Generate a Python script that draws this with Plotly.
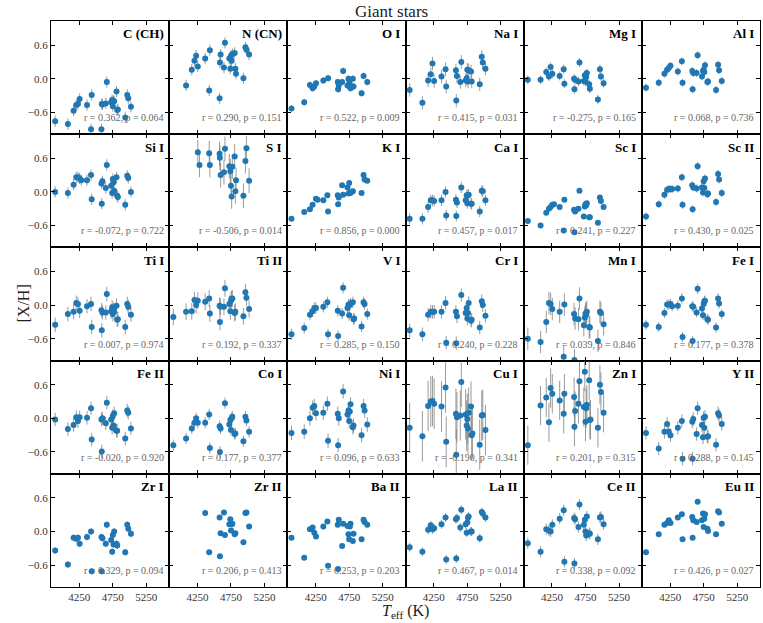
import plotly.graph_objects as go
from plotly.subplots import make_subplots

# effective temperature of the giant stars (shared by every panel)
teff = [3890, 4080, 4165, 4205, 4230, 4255, 4280, 4365, 4425, 4435,
        4580, 4585, 4595, 4645, 4660, 4725, 4740, 4750, 4760, 4770,
        4805, 4815, 4825, 4935, 4965, 4980, 5020]

N = None
c_ch = [-0.76, -0.81, -0.57, -0.47, -0.45, -0.36, N, -0.47, -0.90, -0.29, -0.90, -0.45, -0.46, -0.44, -0.06, -0.42, -0.38, -0.49, -0.40, -0.40, -0.23, -0.56, -0.55, -0.69, -0.29, -0.35, -0.50]
n_cn = [N, -0.12, 0.16, 0.32, 0.41, 0.22, N, 0.36, -0.21, 0.51, -0.35, 0.29, 0.43, 0.20, 0.64, 0.36, 0.18, 0.41, 0.32, 0.44, 0.46, 0.18, 0.09, 0.01, 0.56, 0.52, 0.43]
o_1 = [-0.53, -0.42, -0.11, -0.17, -0.14, -0.08, N, -0.03, N, 0.01, -0.06, -0.19, -0.12, -0.06, 0.14, -0.12, 0.00, -0.03, -0.10, -0.17, 0.00, -0.14, N, -0.26, 0.05, N, -0.06]
na_1 = [-0.20, -0.43, -0.03, 0.08, 0.27, -0.04, N, 0.04, 0.17, -0.14, 0.15, -0.39, 0.05, -0.06, 0.30, -0.03, 0.01, 0.16, -0.05, 0.15, 0.13, -0.05, N, -0.10, 0.39, 0.29, 0.18]
mg_1 = [-0.02, -0.02, 0.12, 0.04, 0.21, 0.09, N, 0.05, 0.17, -0.09, 0.00, -0.19, -0.02, -0.05, 0.29, -0.04, 0.06, -0.05, 0.03, 0.10, -0.10, -0.18, N, -0.37, 0.17, 0.04, -0.08]
al_1 = [-0.16, -0.07, 0.09, 0.16, 0.19, 0.23, N, 0.13, 0.31, -0.07, 0.14, -0.19, 0.10, 0.10, 0.42, 0.04, 0.14, 0.16, 0.12, 0.24, -0.06, -0.05, N, -0.20, 0.25, 0.15, -0.04]
si_1 = [0.00, -0.02, 0.13, 0.26, 0.26, 0.24, 0.21, 0.21, 0.30, -0.13, 0.15, -0.21, 0.19, 0.07, 0.48, 0.11, -0.02, 0.23, 0.17, 0.02, 0.26, -0.07, -0.09, -0.23, 0.29, 0.25, 0.00]
s_1 = [N, N, N, N, N, 0.71, 0.48, N, 0.69, 0.48, 0.68, 0.61, 0.30, 0.35, 0.77, 0.46, 0.37, 0.11, -0.08, 0.45, 0.63, 0.01, 0.21, -0.07, 0.55, 0.78, 0.20]
k_1 = [-0.48, -0.36, -0.31, -0.23, N, -0.12, -0.14, -0.15, -0.06, -0.35, -0.06, -0.22, -0.10, 0.12, -0.05, 0.08, -0.03, 0.16, -0.01, -0.02, 0.01, N, N, -0.02, 0.30, 0.22, 0.20]
ca_1 = [-0.48, -0.48, -0.27, -0.15, -0.15, -0.16, N, -0.15, 0.00, -0.42, -0.14, -0.43, -0.19, N, 0.08, -0.15, -0.06, -0.20, -0.06, -0.05, -0.21, -0.21, N, -0.35, 0.02, 0.01, -0.15]
sc_1 = [-0.52, -0.60, -0.37, -0.30, -0.27, -0.23, -0.22, -0.27, -0.69, -0.14, -0.32, -0.72, -0.35, -0.30, 0.02, -0.44, -0.26, -0.22, -0.24, -0.20, -0.45, -0.45, N, -0.55, -0.10, -0.16, -0.27]
sc_2 = [-0.44, -0.22, -0.05, 0.04, 0.05, 0.05, 0.05, 0.06, 0.26, -0.23, 0.12, -0.31, 0.08, 0.06, 0.46, 0.08, -0.01, 0.19, 0.07, 0.24, -0.04, -0.03, N, -0.18, 0.32, 0.22, -0.02]
ti_1 = [-0.35, -0.16, -0.12, 0.04, 0.02, -0.10, N, -0.02, 0.02, -0.39, -0.09, -0.45, -0.13, -0.13, 0.20, -0.11, -0.04, -0.16, -0.08, -0.12, -0.01, -0.26, -0.25, -0.39, 0.02, -0.03, -0.17]
ti_2 = [-0.21, -0.12, -0.11, 0.09, 0.00, 0.08, N, 0.06, 0.12, -0.15, -0.01, -0.30, -0.03, -0.03, 0.30, 0.02, -0.11, 0.08, 0.11, 0.12, -0.14, -0.12, N, -0.20, 0.23, 0.13, -0.07]
v_1 = [-0.52, -0.41, -0.17, -0.11, -0.05, -0.05, N, -0.03, 0.05, -0.52, -0.10, -0.55, N, -0.15, 0.31, -0.05, 0.01, -0.18, 0.00, 0.03, 0.05, -0.25, -0.24, -0.38, 0.05, 0.02, -0.16]
cr_1 = [-0.45, -0.52, -0.17, -0.12, -0.12, -0.12, N, -0.12, 0.04, -0.67, -0.12, -0.68, -0.20, N, 0.18, -0.14, -0.05, -0.24, -0.14, 0.04, -0.28, -0.26, N, -0.40, 0.07, 0.00, -0.19]
mn_1 = [-0.60, -0.66, -0.30, 0.04, 0.02, -0.07, N, -0.12, -0.92, 0.01, -0.16, -0.98, -0.24, -0.25, 0.12, -0.36, -0.22, -0.15, -0.17, -0.12, -0.39, -0.40, N, -0.64, -0.12, -0.14, -0.34]
fe_1 = [-0.35, -0.39, -0.14, 0.01, 0.01, 0.02, -0.02, -0.01, 0.12, -0.57, -0.02, -0.64, -0.03, -0.13, 0.29, -0.06, -0.18, 0.02, 0.07, 0.08, -0.25, -0.26, N, -0.40, 0.12, 0.03, -0.16]
fe_2 = [-0.02, -0.19, -0.12, 0.02, -0.05, 0.02, N, 0.01, 0.18, -0.38, -0.02, -0.59, 0.00, -0.09, 0.28, -0.02, -0.17, 0.04, -0.13, 0.09, -0.22, -0.22, N, -0.36, 0.14, 0.10, -0.18]
co_1 = [-0.48, -0.36, -0.18, -0.08, 0.00, -0.08, N, -0.08, 0.07, -0.53, -0.14, -0.60, -0.18, N, 0.27, -0.11, -0.03, -0.21, 0.00, 0.03, -0.28, -0.27, N, -0.41, 0.03, -0.04, -0.24]
ni_1 = [-0.26, -0.24, 0.00, 0.19, 0.22, 0.09, N, 0.10, 0.26, -0.40, 0.08, -0.48, 0.00, N, 0.48, 0.07, 0.14, -0.05, 0.12, 0.25, -0.16, -0.13, N, -0.30, 0.22, 0.14, -0.11]
cu_1 = [-0.17, -0.32, 0.22, 0.30, 0.31, 0.26, N, 0.21, 0.55, -0.42, 0.08, -0.65, 0.02, 0.05, 0.65, 0.07, -0.13, -0.01, -0.18, 0.10, 0.21, -0.30, -0.27, -0.47, 0.05, 0.06, -0.21]
zn_1 = [-0.48, 0.23, 0.37, -0.07, 0.54, 0.44, N, 0.32, 0.08, 0.44, 0.38, -0.15, 0.13, 0.26, 0.66, 0.20, 0.83, -0.06, 0.18, 0.24, 0.68, -0.03, -0.02, -0.17, 0.60, 0.47, 0.10]
y_2 = [-0.26, -0.54, -0.24, -0.10, -0.24, -0.30, N, -0.17, -0.05, -0.72, -0.06, -0.72, -0.01, -0.28, 0.18, -0.12, -0.34, 0.01, -0.17, 0.03, -0.33, -0.32, N, -0.47, 0.09, 0.05, -0.10]
zr_1 = [-0.34, -0.59, -0.11, -0.13, -0.11, -0.22, N, -0.10, 0.00, -0.71, -0.10, -0.71, -0.12, -0.22, 0.12, -0.15, -0.36, -0.06, -0.23, 0.00, -0.22, -0.25, N, -0.37, 0.12, 0.05, -0.04]
zr_2 = [N, N, N, N, N, N, N, 0.33, -0.37, N, 0.25, -0.44, -0.03, 0.34, -0.06, 0.13, 0.22, 0.02, 0.13, 0.14, -0.05, -0.03, N, -0.19, 0.33, 0.34, 0.09]
ba_2 = [-0.11, -0.47, 0.04, 0.07, -0.02, -0.09, N, 0.09, 0.18, -0.61, 0.12, -0.67, 0.21, -0.26, 0.14, 0.10, -0.05, -0.14, 0.09, 0.14, -0.17, -0.04, N, -0.14, 0.21, 0.17, 0.12]
la_2 = [-0.28, -0.36, 0.03, 0.11, 0.04, 0.06, N, 0.13, 0.25, -0.50, 0.22, -0.48, 0.24, 0.07, 0.39, 0.13, -0.02, 0.16, 0.25, 0.27, 0.00, 0.00, N, -0.12, 0.35, 0.32, 0.25]
ce_2 = [-0.21, -0.36, 0.04, 0.02, 0.00, 0.12, N, 0.23, 0.38, -0.54, 0.24, -0.57, 0.22, 0.08, 0.48, 0.12, 0.21, 0.00, -0.07, 0.27, -0.03, -0.04, N, -0.14, 0.25, 0.26, 0.13]
eu_2 = [-0.37, -0.05, 0.12, 0.15, 0.20, 0.15, N, 0.25, 0.31, -0.14, 0.26, -0.11, 0.20, 0.17, 0.53, 0.20, 0.32, 0.08, 0.23, 0.31, 0.05, 0.01, N, -0.05, 0.36, 0.34, 0.14]

labels = ["C (CH)", "N (CN)", "O I", "Na I", "Mg I", "Al I",
          "Si I", "S I", "K I", "Ca I", "Sc I", "Sc II",
          "Ti I", "Ti II", "V I", "Cr I", "Mn I", "Fe I",
          "Fe II", "Co I", "Ni I", "Cu I", "Zn I", "Y II",
          "Zr I", "Zr II", "Ba II", "La II", "Ce II", "Eu II"]
abund = [c_ch, n_cn, o_1, na_1, mg_1, al_1,
         si_1, s_1, k_1, ca_1, sc_1, sc_2,
         ti_1, ti_2, v_1, cr_1, mn_1, fe_1,
         fe_2, co_1, ni_1, cu_1, zn_1, y_2,
         zr_1, zr_2, ba_2, la_2, ce_2, eu_2]
# typical error per element
errs = [0.10, 0.10, 0.06, 0.12, 0.08, 0.07,
        0.10, 0.22, 0.04, 0.10, 0.04, 0.07,
        0.13, 0.15, 0.10, 0.12, 0.20, 0.09,
        0.12, 0.10, 0.13, 0.45, 0.35, 0.12,
        0.06, 0.02, 0.02, 0.08, 0.10, 0.03]
r_vals = [0.362, 0.290, 0.522, 0.415, -0.275, 0.068,
          -0.072, -0.506, 0.856, 0.457, 0.241, 0.430,
          0.007, 0.192, 0.285, 0.240, 0.039, 0.177,
          -0.020, 0.177, 0.096, -0.190, 0.201, 0.288,
          0.329, 0.206, 0.253, 0.467, 0.338, 0.426]
p_vals = [0.064, 0.151, 0.009, 0.031, 0.165, 0.736,
          0.722, 0.014, 0.000, 0.017, 0.227, 0.025,
          0.974, 0.337, 0.150, 0.228, 0.846, 0.378,
          0.920, 0.377, 0.633, 0.341, 0.315, 0.145,
          0.094, 0.413, 0.203, 0.014, 0.092, 0.027]

FONT = "Liberation Serif"
fig = make_subplots(rows=5, cols=6, shared_xaxes=True, shared_yaxes=True,
                    horizontal_spacing=0, vertical_spacing=0)

for i, lab in enumerate(labels):
    row, col = i // 6 + 1, i % 6 + 1
    fig.add_trace(go.Scatter(
        x=teff, y=abund[i], mode="markers",
        marker=dict(color="#1f77b4", size=6),
        error_y=dict(type="data", array=[errs[i]] * len(teff),
                     color="rgba(120,120,120,0.75)", thickness=1, width=0),
        showlegend=False), row=row, col=col)
    ax = "" if i == 0 else str(i + 1)
    fig.add_annotation(xref=f"x{ax} domain", yref=f"y{ax} domain",
                       x=0.97, y=0.97, xanchor="right", yanchor="top",
                       text="<b>" + lab + "</b>", showarrow=False,
                       font=dict(family=FONT, size=13, color="black"))
    fig.add_annotation(xref=f"x{ax} domain", yref=f"y{ax} domain",
                       x=0.97, y=0.145, xanchor="right", yanchor="middle",
                       text=f"r = {r_vals[i]:.3f}, p = {p_vals[i]:.3f}",
                       showarrow=False,
                       font=dict(family=FONT, size=10, color="#666666"))

fig.update_xaxes(range=[3828, 5590], tickvals=[4250, 4750, 5250],
                 ticks="inside", ticklen=4, tickcolor="black",
                 showline=True, linecolor="black", linewidth=1, mirror="ticks",
                 showgrid=False, zeroline=False,
                 tickfont=dict(family=FONT, size=11, color="#333333"))
fig.update_yaxes(range=[-0.99, 1.03], tickvals=[-0.6, 0.0, 0.6],
                 ticktext=["\u22120.6", "0.0", "0.6"],
                 ticks="inside", ticklen=4, tickcolor="black",
                 showline=True, linecolor="black", linewidth=1, mirror="ticks",
                 showgrid=False, zeroline=False,
                 tickfont=dict(family=FONT, size=11, color="#333333"))

fig.add_annotation(xref="paper", yref="paper", x=0.48, y=1.0, yshift=10,
                   yanchor="middle", text="Giant stars", showarrow=False,
                   font=dict(family=FONT, size=17, color="#222222"))
fig.add_annotation(xref="paper", yref="paper", x=0.5, y=0, yshift=-24,
                   yanchor="middle", text="<i>T</i><sub>eff</sub> (K)",
                   showarrow=False, font=dict(family=FONT, size=16, color="#222222"))
fig.add_annotation(xref="paper", yref="paper", x=0, xshift=-39, y=0.5,
                   textangle=-90, text="[X/H]", showarrow=False,
                   font=dict(family=FONT, size=16, color="#222222"))

fig.update_layout(width=763, height=623,
                  margin=dict(l=51, r=3, t=21, b=36),
                  plot_bgcolor="white", paper_bgcolor="white")

fig.write_html("out.html", config={"displayModeBar": False},
               post_script="document.body.style.margin='0';"
                           "document.body.style.overflow='hidden';")
